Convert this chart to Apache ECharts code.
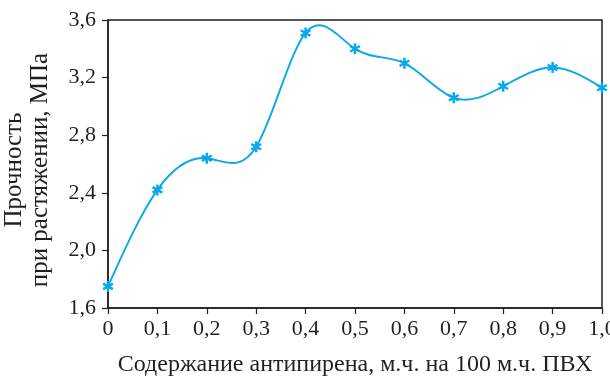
<!DOCTYPE html>
<html>
<head>
<meta charset="utf-8">
<script src="https://cdn.jsdelivr.net/npm/echarts@6/dist/echarts.min.js"></script>
<style>
  html, body { margin: 0; padding: 0; background: #fff; }
  #chart { width: 610px; height: 380px; }
</style>
</head>
<body>
<div id="chart"></div>
<script>
// Flame retardant content, parts per 100 parts PVC
const content = [0, 0.1, 0.2, 0.3, 0.4, 0.5, 0.6, 0.7, 0.8, 0.9, 1.0];
// Tensile strength, MPa
const strength = [1.75, 2.42, 2.64, 2.72, 3.51, 3.40, 3.30, 3.06, 3.14, 3.27, 3.13];

const xTitle = 'Содержание антипирена, м.ч. на 100 м.ч. ПВХ';
const yTitle = 'Прочность\nпри растяжении, МПа';

// six-armed asterisk marker built from three crossed bars
const asterisk = 'path://M-22,-100 L22,-100 L22,100 L-22,100 Z ' +
  'M75.6,-69.05 L97.6,-30.95 L-75.6,69.05 L-97.6,30.95 Z ' +
  'M-97.6,-30.95 L-75.6,-69.05 L97.6,30.95 L75.6,69.05 Z';

const comma = v => (v === 0 ? '0' : v.toFixed(1).replace('.', ','));
const font = 'Liberation Serif';
const ink = '#231f20';
const blue = '#0aa8e8';

// Slopes of a natural cubic spline through the measured points,
// used to turn each interval into one cubic Bezier segment.
function splineSlopes(xs, ys) {
  const n = xs.length;
  const h = [];
  for (let i = 0; i < n - 1; i++) h.push(xs[i + 1] - xs[i]);
  const M = new Array(n).fill(0);
  if (n > 2) {
    const a = [], b = [], c = [], r = [];
    for (let i = 1; i < n - 1; i++) {
      a.push(h[i - 1]);
      b.push(2 * (h[i - 1] + h[i]));
      c.push(h[i]);
      r.push(6 * ((ys[i + 1] - ys[i]) / h[i] - (ys[i] - ys[i - 1]) / h[i - 1]));
    }
    const m = b.length;
    for (let i = 1; i < m; i++) {
      const w = a[i] / b[i - 1];
      b[i] -= w * c[i - 1];
      r[i] -= w * r[i - 1];
    }
    const sol = new Array(m);
    sol[m - 1] = r[m - 1] / b[m - 1];
    for (let i = m - 2; i >= 0; i--) sol[i] = (r[i] - c[i] * sol[i + 1]) / b[i];
    for (let i = 0; i < m; i++) M[i + 1] = sol[i];
  }
  const d = [];
  for (let i = 0; i < n - 1; i++) {
    d.push((ys[i + 1] - ys[i]) / h[i] - h[i] * (2 * M[i] + M[i + 1]) / 6);
  }
  d.push((ys[n - 1] - ys[n - 2]) / h[n - 2] + h[n - 2] * (M[n - 2] + 2 * M[n - 1]) / 6);
  return d;
}
const slopes = splineSlopes(content, strength);

const points = content.map((x, i) => [x, strength[i]]);

const chart = echarts.init(document.getElementById('chart'));
chart.setOption({
  animation: false,
  textStyle: { fontFamily: font },
  grid: {
    left: 108, right: 8, top: 20, bottom: 72,
    outerBoundsMode: 'none', containLabel: false,
    show: true, borderColor: ink, borderWidth: 1.5
  },
  xAxis: {
    type: 'value', min: 0, max: 1, interval: 0.1,
    name: xTitle, nameLocation: 'middle', nameGap: 45,
    nameTextStyle: { fontFamily: font, fontSize: 24, color: ink },
    axisLine: { lineStyle: { color: ink, width: 1.5 } },
    axisTick: { show: true, length: 6, inside: false, lineStyle: { color: ink, width: 1.2 } },
    axisLabel: { formatter: comma, fontFamily: font, fontSize: 22, color: ink, margin: 10, hideOverlap: false },
    splitLine: { show: false }
  },
  yAxis: {
    type: 'value', min: 1.6, max: 3.6, interval: 0.4,
    name: yTitle, nameLocation: 'middle', nameGap: 55, nameRotate: 90,
    nameTextStyle: {
      fontFamily: font, fontSize: 25, color: ink, lineHeight: 26, align: 'center',
      padding: [0, 12, 0, 0]
    },
    axisLine: { show: true, lineStyle: { color: ink, width: 1.5 } },
    axisTick: { show: true, length: 6, lineStyle: { color: ink, width: 1.2 } },
    axisLabel: { formatter: comma, fontFamily: font, fontSize: 22, color: ink, margin: 12 },
    splitLine: { show: false }
  },
  series: [
    {
      // smooth curve: each data item draws the segment to the next point
      type: 'custom',
      data: points,
      clip: false,
      silent: true,
      renderItem: function (params, api) {
        const i = params.dataIndex;
        if (i >= content.length - 1) return null;
        const h = content[i + 1] - content[i];
        const p0 = api.coord([content[i], strength[i]]);
        const p1 = api.coord([content[i + 1], strength[i + 1]]);
        const c0 = api.coord([content[i] + h / 3, strength[i] + slopes[i] * h / 3]);
        const c1 = api.coord([content[i + 1] - h / 3, strength[i + 1] - slopes[i + 1] * h / 3]);
        return {
          type: 'bezierCurve',
          shape: {
            x1: p0[0], y1: p0[1], x2: p1[0], y2: p1[1],
            cpx1: c0[0], cpy1: c0[1], cpx2: c1[0], cpy2: c1[1]
          },
          style: { stroke: blue, lineWidth: 1.9, fill: null }
        };
      },
      z: 2
    },
    {
      type: 'scatter',
      data: points,
      symbol: asterisk,
      symbolSize: 11,
      clip: false,
      itemStyle: { color: blue, opacity: 1 },
      z: 3
    }
  ]
});
</script>
</body>
</html>
